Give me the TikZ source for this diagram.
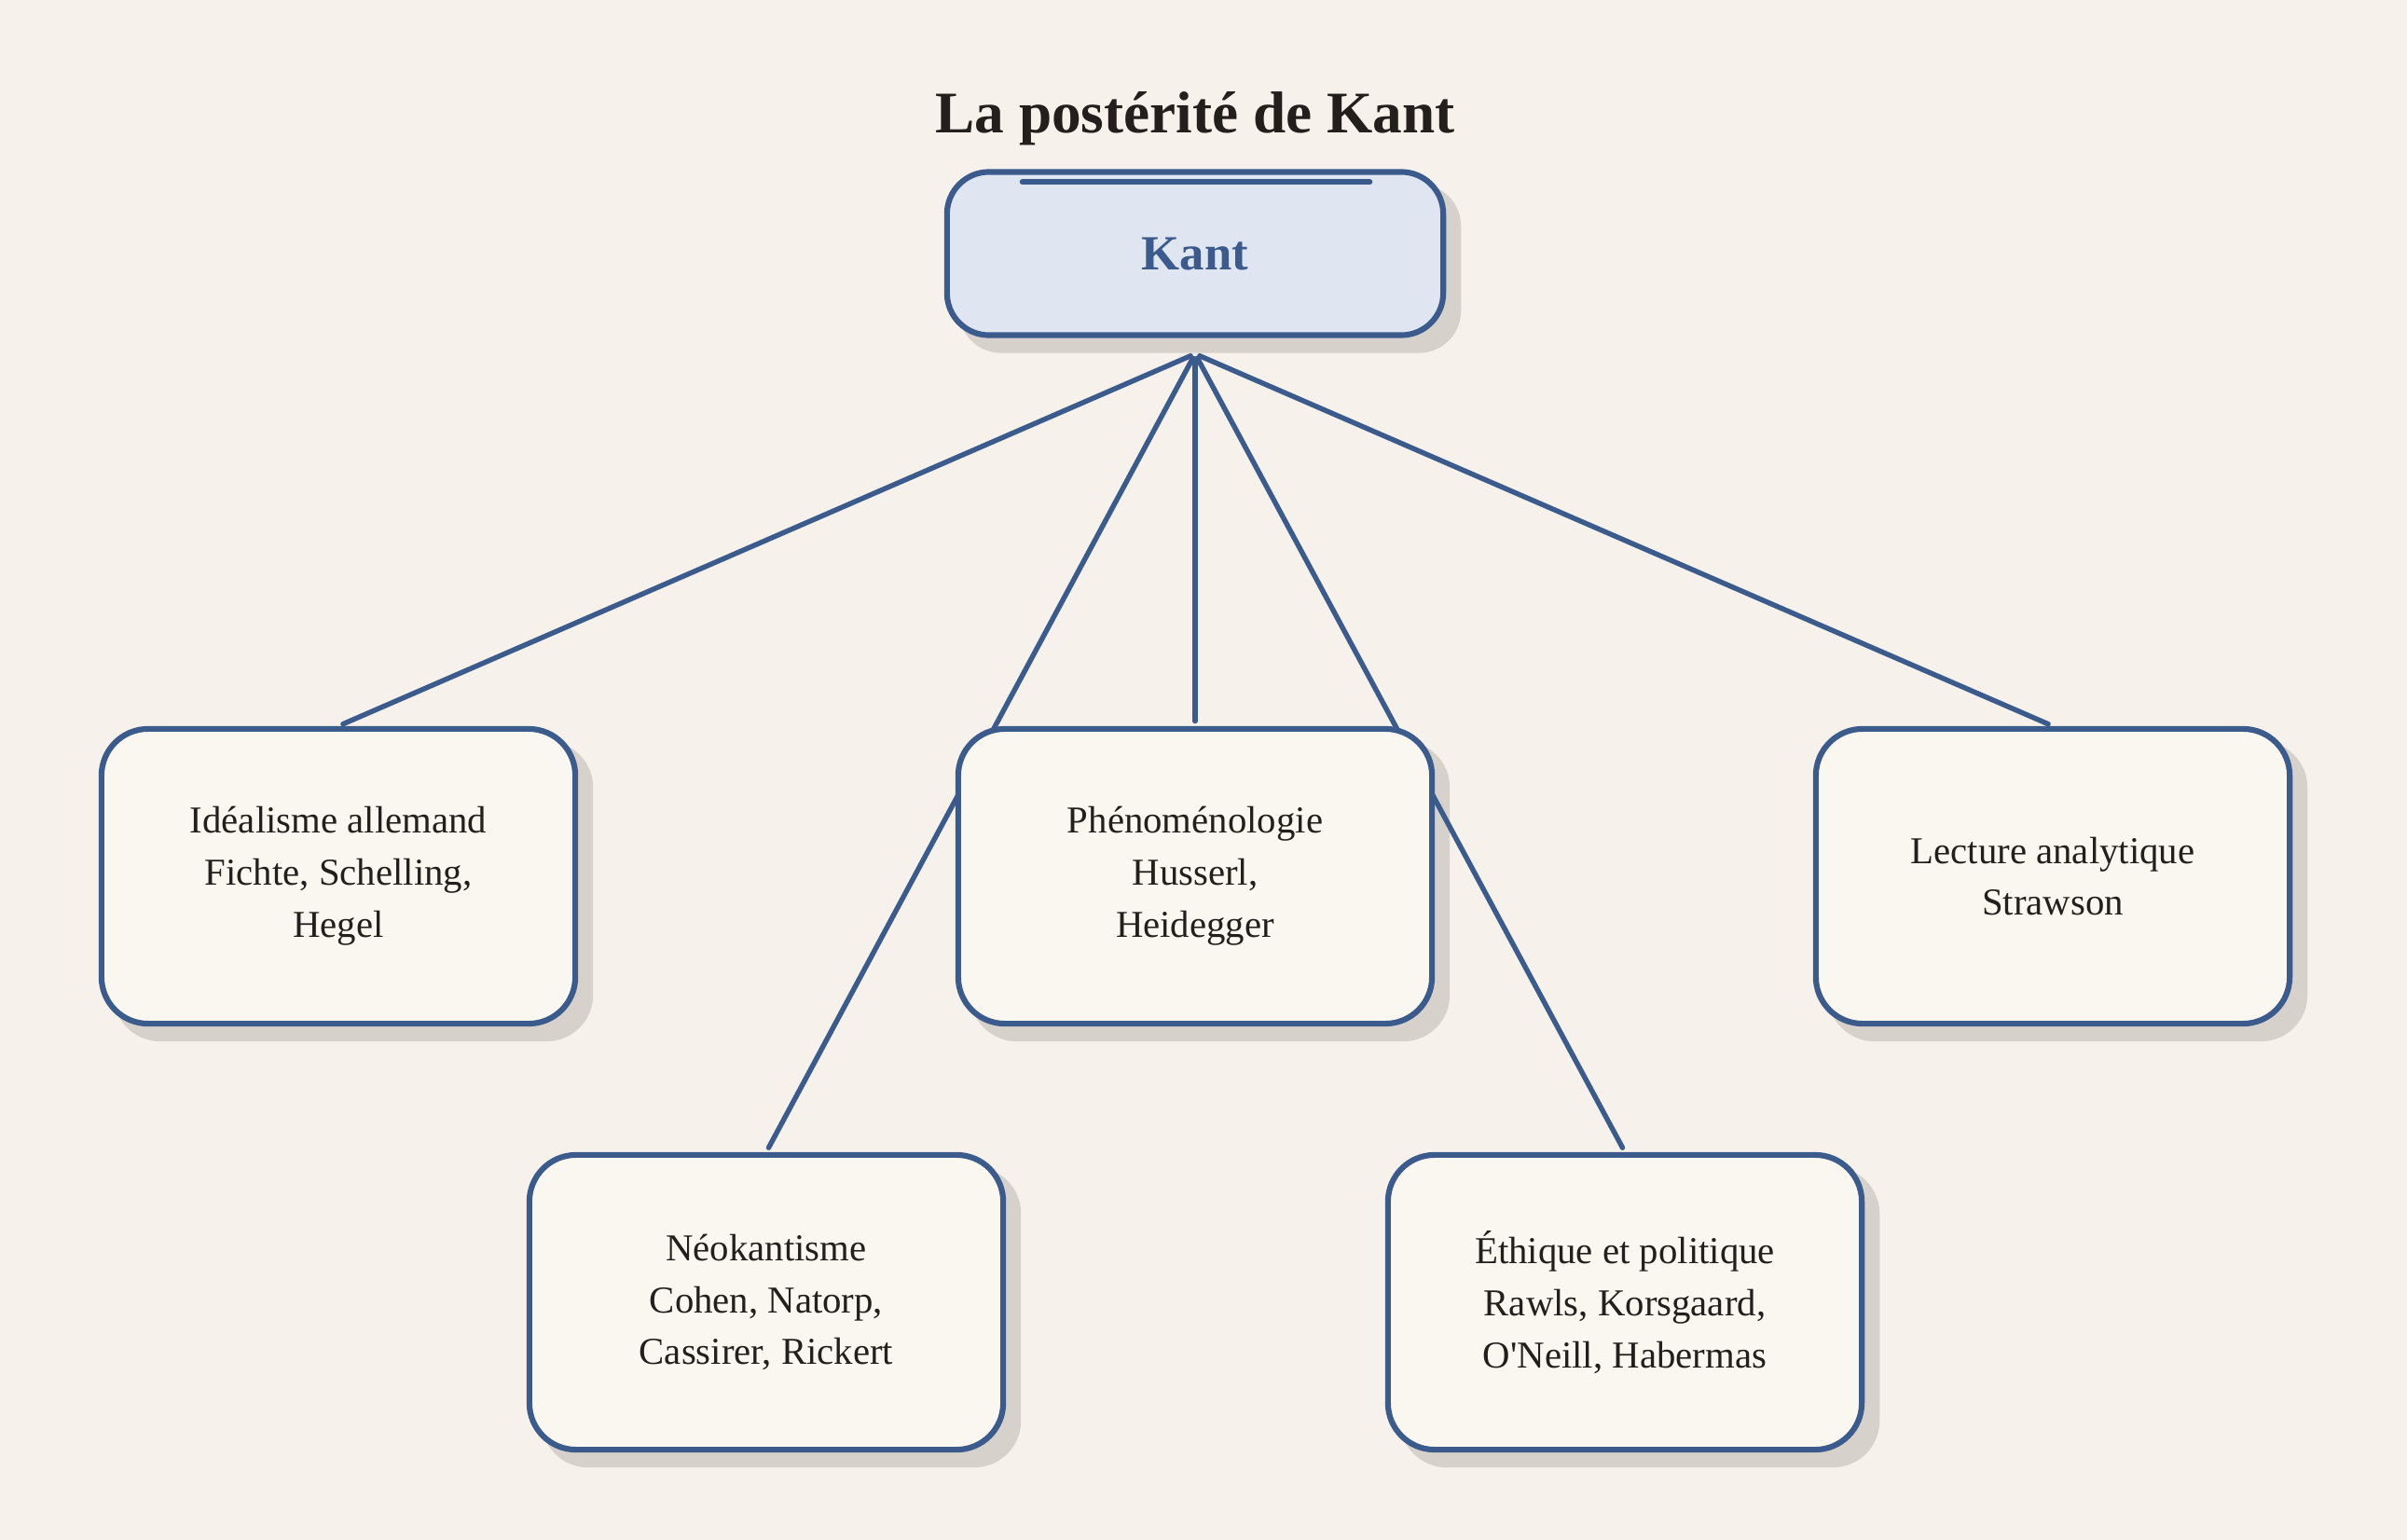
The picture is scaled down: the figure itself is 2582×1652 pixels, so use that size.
\documentclass[tikz,border=0pt]{standalone}
\usepackage{fontspec}
\setmainfont{Liberation Serif}
\newfontfamily\plainf{Liberation Serif}
\usetikzlibrary{calc}
\definecolor{bg}{HTML}{F6F2EB}
\definecolor{blueb}{HTML}{3B5B8D}
\definecolor{rootfill}{HTML}{DFE6F1}
\definecolor{leaffill}{HTML}{FAF7F1}
\definecolor{shadowc}{HTML}{D6D1CA}
\definecolor{ink}{HTML}{231F1C}
\pgfdeclarelayer{bgl}
\pgfdeclarelayer{shadowl}
\pgfdeclarelayer{edgel}
\pgfsetlayers{bgl,shadowl,edgel,main}
\begin{document}
\begin{tikzpicture}[x=0.01cm,y=-0.01cm,
  leafbox/.style={draw=blueb, line width=1.75pt, fill=leaffill, rounded corners=0.5cm,
    minimum width=5.08cm, minimum height=3.16cm, align=center, inner sep=0pt,
    font=\fontsize{11.6}{15.9}\selectfont, text=ink},
  rootbox/.style={draw=blueb, line width=1.75pt, fill=rootfill, rounded corners=0.45cm,
    minimum width=5.32cm, minimum height=1.75cm, align=center, inner sep=0pt,
    font=\fontsize{15}{18}\selectfont\bfseries, text=blueb},
  link/.style={draw=blueb, line width=1.55pt, line cap=round, shorten <=1.5pt, shorten >=1.5pt},
  titletext/.style={font=\fontsize{18}{22}\selectfont\bfseries, text=ink}]
\useasboundingbox (0,0) rectangle (2582,1652);
\begin{pgfonlayer}{bgl}
  \fill[bg] (0,0) rectangle (2582,1652);
\end{pgfonlayer}

\node[titletext] (title) at (1282,127) {La postérité de Kant};
\node[rootbox] (kant) at (1282,272) {Kant};
\draw[blueb, line width=1.75pt, line cap=round]
  ($(kant.north west)+(84,14)$) -- ($(kant.north east)+(-82,14)$);

\node[leafbox] (ideal) at (363,940) {Idéalisme allemand\\Fichte, Schelling,\\Hegel};
\node[leafbox] (pheno) at (1282,940) {Phénoménologie\\Husserl,\\Heidegger};
\node[leafbox] (lect) at (2202,940) {Lecture analytique\\Strawson};
\node[leafbox] (neo) at (822,1397) {Néokantisme\\Cohen, Natorp,\\Cassirer, Rickert};
\node[leafbox] (ethi) at (1743,1397) {Éthique et politique\\Rawls, Korsgaard,\\O{\plainf'}Neill, Habermas};

\coordinate (hub) at ($(kant.south)+(0,17)$);

\begin{pgfonlayer}{shadowl}
  \fill[shadowc, rounded corners=0.45cm] ($(kant.south west)+(16,16)$) rectangle ($(kant.north east)+(16,16)$);
  \foreach \n in {ideal,pheno,lect,neo,ethi}
    \fill[shadowc, rounded corners=0.5cm] ($(\n.south west)+(16,16)$) rectangle ($(\n.north east)+(16,16)$);
\end{pgfonlayer}

\begin{pgfonlayer}{edgel}
  \draw[link] (hub) -- (ideal.north);
  \draw[link] (hub) -- (neo.north);
  \draw[link] (hub) -- (pheno.north);
  \draw[link] (hub) -- (ethi.north);
  \draw[link] (hub) -- (lect.north);
\end{pgfonlayer}
\end{tikzpicture}
\end{document}
